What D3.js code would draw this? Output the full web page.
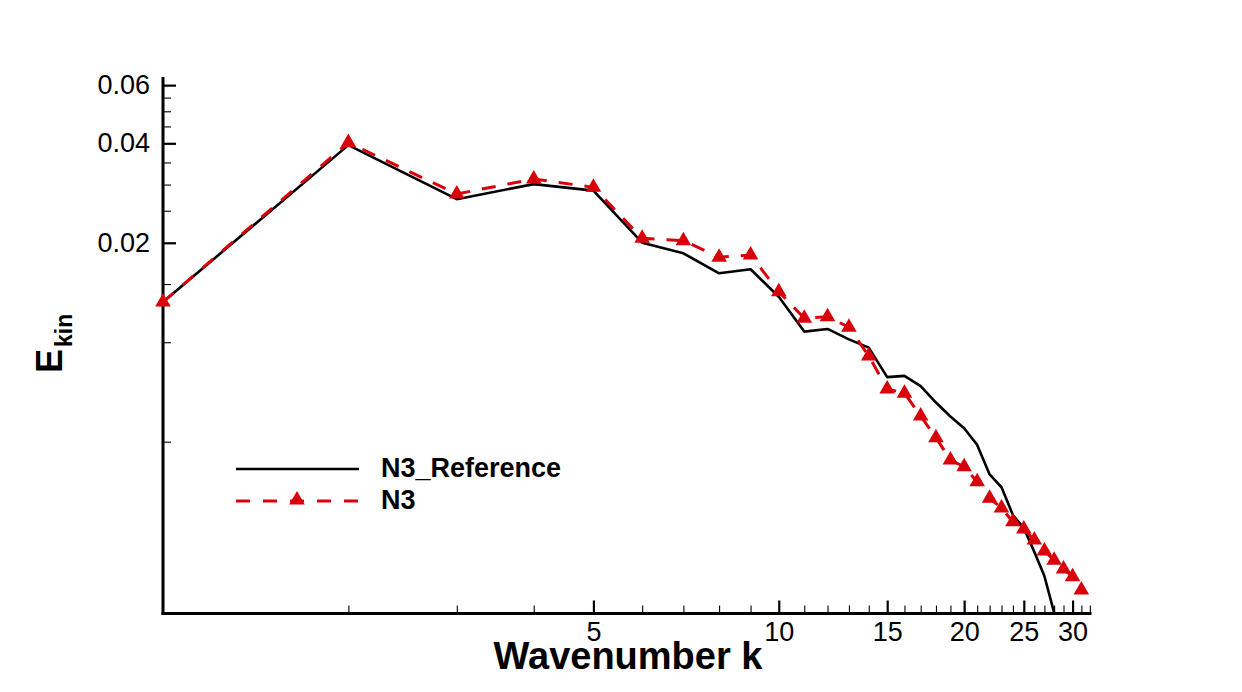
<!DOCTYPE html>
<html>
<head>
<meta charset="utf-8">
<script src="https://cdn.jsdelivr.net/npm/d3@7"></script>
<style>
  html, body { margin: 0; padding: 0; background: #fff; }
  svg { display: block; font-family: "Liberation Sans", Arial, Helvetica, sans-serif; }
  .axis .major line { stroke: #000; stroke-width: 2.2; }
  .axis .minor line { stroke: #000; stroke-width: 1.1; }
  .axis text { fill: #000; font-size: 27px; font-family: "Liberation Sans", Arial, Helvetica, sans-serif; }
</style>
</head>
<body>
<svg id="chart" width="1242" height="692"></svg>
<script>
// Energy spectrum, log-log.

const waveK = d3.range(1, 32);              // 1..31
const refK  = d3.range(1, 29);              // 1..28

const n3Values = [0.01324, 0.0402, 0.0281, 0.0312, 0.02944, 0.02064, 0.0203, 0.01808,
  0.01837, 0.01422, 0.01182, 0.01195, 0.0111, 0.00909, 0.00722, 0.00701, 0.00598,
  0.00514, 0.0044, 0.0042, 0.00378, 0.00337, 0.00315, 0.00286, 0.00272, 0.00252,
  0.002336, 0.00219, 0.00206, 0.00195, 0.00178];

const refValues = [0.01324, 0.0395, 0.0271, 0.0301, 0.02876, 0.02001, 0.01859, 0.01617,
  0.01663, 0.01373, 0.01077, 0.01097, 0.0102, 0.00963, 0.00784, 0.00791, 0.00737,
  0.00657, 0.00596, 0.00549, 0.00489, 0.00398, 0.00364, 0.003, 0.00274, 0.00232,
  0.00196, 0.00152];

const xMajor = [5, 10, 15, 20, 25, 30];
const xMinor = [2, 3, 4, 6, 7, 8, 9, 11, 12, 13, 14, 16, 17, 18, 19, 21, 22, 23, 24,
  26, 27, 28, 29, 31, 32];
const yMajor = [0.02, 0.04, 0.06];
const yMinor = [0.005, 0.01, 0.015, 0.025, 0.03, 0.035, 0.045, 0.05, 0.055];

const seriesNames = ['N3_Reference', 'N3'];

const RED = '#d7000b';

const svg = d3.select('#chart');
const plotL = 163, plotR = 1091.5, plotT = 77, plotB = 613.5;

const x = d3.scaleLog().domain([1, 32.2]).range([plotL, plotR]);
const y = d3.scaleLog().domain([0.00151, 0.0635]).range([plotB, plotT]);

svg.append('rect').attr('width', 1242).attr('height', 692).attr('fill', '#fff');

svg.append('defs').append('clipPath').attr('id', 'plotClip')
  .append('rect')
  .attr('x', plotL).attr('y', plotT)
  .attr('width', plotR - plotL).attr('height', plotB - plotT);

// Axes: ticks point inward
const gx = svg.append('g').attr('class', 'axis').attr('transform', `translate(0,${plotB})`);
gx.append('g').attr('class', 'minor')
  .call(d3.axisBottom(x).tickValues(xMinor).tickSizeInner(-8).tickSizeOuter(0).tickFormat(''))
  .call(g => g.select('.domain').remove());
gx.append('g').attr('class', 'major')
  .call(d3.axisBottom(x).tickValues(xMajor).tickSizeInner(-13).tickSizeOuter(0)
    .tickPadding(8).tickFormat(d3.format('d')))
  .call(g => g.select('.domain').remove());
gx.append('line')
  .attr('x1', plotL - 1.5).attr('x2', plotR)
  .attr('stroke', '#000').attr('stroke-width', 3);

const gy = svg.append('g').attr('class', 'axis').attr('transform', `translate(${plotL},0)`);
gy.append('g').attr('class', 'minor')
  .call(d3.axisLeft(y).tickValues(yMinor).tickSizeInner(-8).tickSizeOuter(0).tickFormat(''))
  .call(g => g.select('.domain').remove());
gy.append('g').attr('class', 'major')
  .call(d3.axisLeft(y).tickValues(yMajor).tickSizeInner(-13).tickSizeOuter(0)
    .tickPadding(13).tickFormat(d3.format('.2f')))
  .call(g => g.select('.domain').remove());
gy.append('line')
  .attr('y1', plotT).attr('y2', plotB + 1.5)
  .attr('stroke', '#000').attr('stroke-width', 3);

// Series
const plot = svg.append('g').attr('clip-path', 'url(#plotClip)');

const line = d3.line().x(d => x(d[0])).y(d => y(d[1]));

plot.append('path')
  .datum(refK.map((k, i) => [k, refValues[i]]))
  .attr('d', line)
  .attr('fill', 'none')
  .attr('stroke', '#000')
  .attr('stroke-width', 2.6)
  .attr('stroke-linejoin', 'round');

const n3Data = waveK.map((k, i) => [k, n3Values[i]]);
plot.append('path')
  .datum(n3Data)
  .attr('d', line)
  .attr('fill', 'none')
  .attr('stroke', RED)
  .attr('stroke-width', 3)
  .attr('stroke-dasharray', '14,12');

const tri = d3.symbol().type(d3.symbolTriangle).size(105);
svg.append('g').selectAll('path')
  .data(n3Data)
  .join('path')
  .attr('transform', d => `translate(${x(d[0])},${y(d[1])})`)
  .attr('d', tri)
  .attr('fill', RED);

// Legend
const legend = svg.append('g').attr('transform', 'translate(236,469)');
legend.append('line')
  .attr('x1', 0).attr('x2', 123).attr('y1', 0).attr('y2', 0)
  .attr('stroke', '#000').attr('stroke-width', 2.6);
legend.append('line')
  .attr('x1', 0).attr('x2', 123).attr('y1', 32).attr('y2', 32)
  .attr('stroke', RED).attr('stroke-width', 3).attr('stroke-dasharray', '14,13');
legend.append('path')
  .attr('transform', 'translate(61,31)')
  .attr('d', tri)
  .attr('fill', RED);
legend.selectAll('text')
  .data(seriesNames)
  .join('text')
  .attr('x', 145)
  .attr('y', (d, i) => 8 + i * 32)
  .attr('font-size', 27)
  .attr('font-weight', 'bold')
  .text(d => d);

// Axis titles
svg.append('text')
  .attr('x', 628).attr('y', 669)
  .attr('text-anchor', 'middle')
  .attr('font-size', 38)
  .attr('font-weight', 'bold')
  .text('Wavenumber k');

const yTitle = svg.append('text')
  .attr('transform', 'translate(61.5,373) rotate(-90)')
  .attr('font-weight', 'bold')
  .attr('font-size', 36);
yTitle.append('tspan').text('E');
yTitle.append('tspan').attr('dx', 2).attr('dy', 10).attr('font-size', 23).text('kin');
</script>
</body>
</html>
